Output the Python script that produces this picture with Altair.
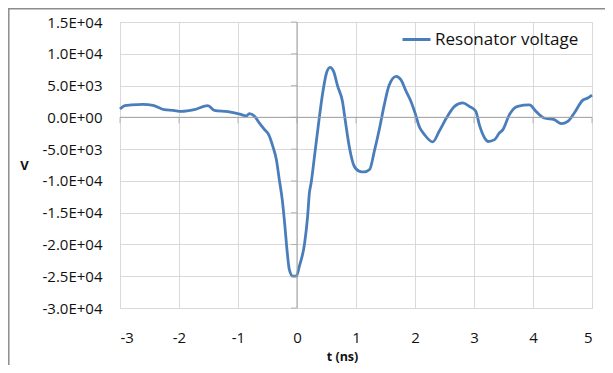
import altair as alt
import pandas as pd

# ---- data ----
T_NS = [-3.0, -2.92, -2.81, -2.61, -2.44, -2.25, -2.10, -1.96, -1.74, -1.51, -1.40,
        -1.17, -0.97, -0.86, -0.81, -0.72, -0.64, -0.55, -0.48, -0.41, -0.35, -0.30,
        -0.25, -0.21, -0.17, -0.13, -0.07, -0.01, 0.04, 0.13, 0.18, 0.21, 0.24, 0.30,
        0.37, 0.44, 0.50, 0.56, 0.62, 0.69, 0.77, 0.82, 0.89, 0.97, 1.06, 1.14, 1.23,
        1.31, 1.40, 1.48, 1.56, 1.68, 1.76, 1.85, 1.93, 2.01, 2.07, 2.16, 2.30, 2.41,
        2.55, 2.67, 2.81, 2.92, 3.03, 3.09, 3.18, 3.24, 3.35, 3.43, 3.49, 3.60, 3.74,
        3.94, 4.05, 4.19, 4.36, 4.48, 4.59, 4.70, 4.84, 4.93, 5.00]
VOLT = [1300, 1840, 1950, 2040, 1890, 1210, 1100, 940, 1210, 1840, 1100,
        900, 500, 220, 580, 160, -880, -1930, -2720, -4560, -6650, -9800,
        -12940, -16600, -20800, -23950, -25000, -25000, -23430, -19750, -15570, -11900, -10300, -5860,
        -630, 4090, 6980, 7860, 7230, 4870, 2520, -630, -4810, -7700, -8490, -8590, -8220,
        -5350, -1670, 2000, 5000, 6450, 5930, 4090, 2520, 420, -1410, -2720, -3870, -2200,
        160, 1730, 2260, 1730, 940, -1150, -3240, -3800, -3510, -2450, -1930, 420, 1730,
        1950, 940, -100, -360, -990, -630, 690, 2670, 3050, 3500]
SERIES = "Resonator voltage"
X_TICKS = [-3, -2, -1, 0, 1, 2, 3, 4, 5]
Y_TICKS = [-30000, -25000, -20000, -15000, -10000, -5000, 0, 5000, 10000, 15000]
X_TITLE = "t (ns)"
Y_TITLE = "V"

BLUE = "#4a7ebb"
GRID = "#d9d9d9"
AXIS = "#a0a0a0"
FONT = "Open Sans"

df = pd.DataFrame({"t": T_NS, "v": VOLT, "series": SERIES})

x_axis = alt.Axis(values=X_TICKS, grid=True, gridColor=GRID, domain=False, ticks=False,
                  labelPadding=22, labelFontSize=15, labelColor="#111", labelFont=FONT,
                  labelExpr="replace(format(datum.value, 'd'), '\u2212', '-')",
                  title=X_TITLE, titleFont=FONT, titleFontSize=12.5, titleFontWeight="bold",
                  titleColor="#111", titleX=222, titleY=48, titleAnchor="start",
                  titleAlign="center", titleBaseline="middle")
y_axis = alt.Axis(values=Y_TICKS, grid=True, gridColor=GRID, domain=False, ticks=False,
                  labelPadding=18, labelFontSize=15, labelColor="#111", labelFont=FONT,
                  labelExpr="replace(replace(format(datum.value, '.1e'), 'e+', 'E+0'), '\u2212', '-')",
                  title=Y_TITLE, titleFont=FONT, titleFontSize=13, titleFontWeight="bold",
                  titleColor="#111", titleAngle=0, titleX=-96, titleY=143,
                  titleAlign="center", titleBaseline="middle")

xs = alt.Scale(domain=[X_TICKS[0], X_TICKS[-1]], nice=False, zero=False)
ys = alt.Scale(domain=[Y_TICKS[0], Y_TICKS[-1]], nice=False, zero=False)

line = alt.Chart(df).mark_line(strokeWidth=2.8, interpolate="monotone").encode(
    x=alt.X("t:Q", scale=xs, axis=x_axis),
    y=alt.Y("v:Q", scale=ys, axis=y_axis),
    color=alt.Color("series:N", scale=alt.Scale(range=[BLUE]),
                    legend=alt.Legend(title=None, orient="none", legendX=281, legendY=2,
                                      symbolType="stroke", symbolSize=784,
                                      symbolStrokeWidth=3, labelFontSize=17,
                                      labelFont=FONT, labelColor="#111",
                                      labelOffset=3, padding=0)),
)

hdf = pd.DataFrame({"t": [X_TICKS[0]], "t2": [X_TICKS[-1]], "v": [0]})
hrule = alt.Chart(hdf).mark_rule(color=AXIS, strokeWidth=1).encode(
    x=alt.X("t:Q", scale=xs, axis=x_axis), x2="t2:Q",
    y=alt.Y("v:Q", scale=ys, axis=y_axis))

vdf = pd.DataFrame({"t": [0], "v": [Y_TICKS[0]], "v2": [Y_TICKS[-1]]})
vrule = alt.Chart(vdf).mark_rule(color=AXIS, strokeWidth=1).encode(
    x=alt.X("t:Q", scale=xs, axis=x_axis),
    y=alt.Y("v:Q", scale=ys, axis=y_axis), y2="v2:Q")

xtdf = pd.DataFrame({"t": X_TICKS, "v": [0] * len(X_TICKS)})
xticks = alt.Chart(xtdf).mark_tick(orient="vertical", size=6, thickness=1, color=AXIS,
                                   yOffset=3).encode(
    x=alt.X("t:Q", scale=xs, axis=x_axis), y=alt.Y("v:Q", scale=ys, axis=y_axis))

ytdf = pd.DataFrame({"t": [0] * len(Y_TICKS), "v": Y_TICKS})
yticks = alt.Chart(ytdf).mark_tick(orient="horizontal", size=6, thickness=1, color=AXIS,
                                   xOffset=-3).encode(
    x=alt.X("t:Q", scale=xs, axis=x_axis), y=alt.Y("v:Q", scale=ys, axis=y_axis))

bdf = pd.DataFrame({"k": [0]})
border_top = alt.Chart(bdf).mark_rule(color="#8c8c8c", strokeWidth=1.5).encode(
    x=alt.value(-112), x2=alt.value(485), y=alt.value(-13.2))
border_left = alt.Chart(bdf).mark_rule(color="#8c8c8c", strokeWidth=1.5).encode(
    x=alt.value(-111.2), y=alt.value(-14), y2=alt.value(343))

chart = alt.layer(line, hrule, vrule, xticks, yticks, border_top, border_left).properties(
    width=472, height=286,
    padding={"left": 112, "top": 14, "right": 13, "bottom": 57},
    autosize=alt.AutoSizeParams(type="none"),
).configure_view(stroke=None).configure(font=FONT)

chart.save("out.html", embed_options={"renderer": "svg", "actions": False})
